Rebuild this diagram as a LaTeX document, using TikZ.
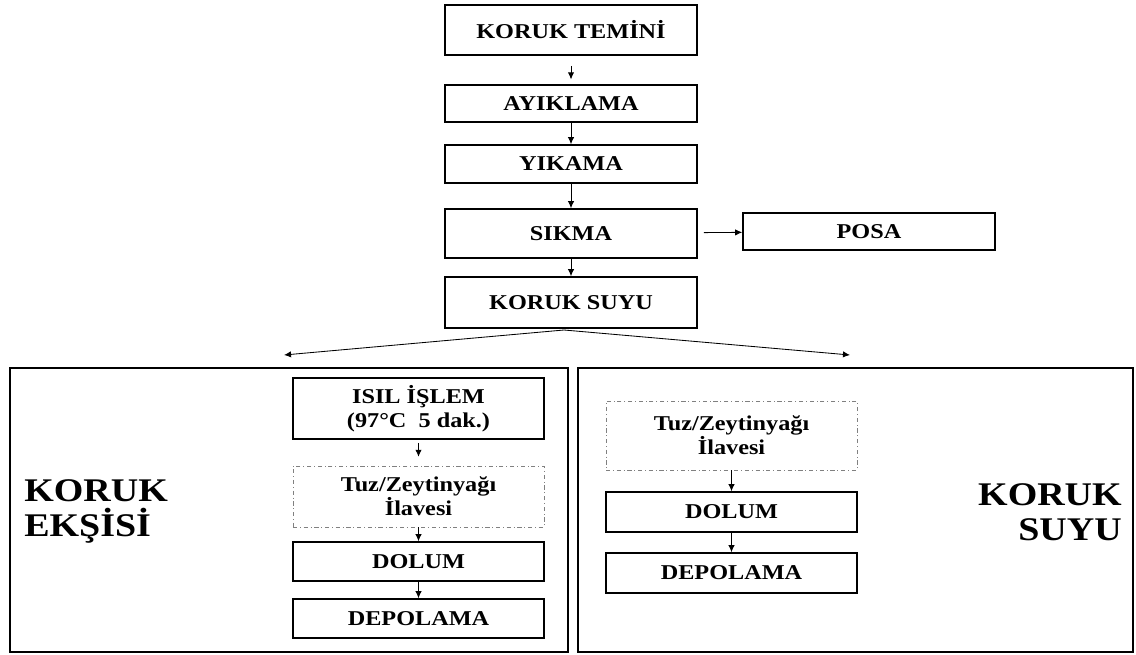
\documentclass[tikz,border=0pt]{standalone}
\usepackage{fontspec}
\setmainfont[FakeStretch=1.15]{Liberation Serif}
\usetikzlibrary{arrows.meta,positioning}

\begin{document}
\begin{tikzpicture}[
  >={Latex[length=5pt,width=4.5pt]},
  box/.style={draw, line width=1.1pt, align=center, minimum width=6.3cm, inner sep=0pt, font=\fontsize{15}{17}\selectfont\bfseries},
  add/.style={box, draw=gray, line width=0.6pt, dash dot, minimum height=1.525cm},
  group/.style={draw, line width=1.1pt, minimum height=7.1cm},
  title/.style={inner sep=0pt, font=\fontsize{23.5}{25}\selectfont\bfseries},
  arrow/.style={->, line width=0.6pt}
]
\useasboundingbox (0,0) rectangle (28.4,-16.375);

% main line
\node[box, minimum height=1.25cm] (temin) at (14.275,-0.75) {KORUK TEMİNİ};
\node[box, minimum height=0.925cm] (ayik) at (14.275,-2.5875) {AYIKLAMA};
\node[box, minimum height=0.95cm] (yika) at (14.275,-4.1) {YIKAMA};
\node[box, minimum height=1.225cm] (sikma) at (14.275,-5.8375) {SIKMA};
\node[box, minimum height=0.925cm] (posa) at (21.725,-5.7875) {POSA};
\node[box, minimum height=1.275cm] (suyu) at (14.275,-7.5625) {KORUK SUYU};

\draw[arrow, shorten <=0.25cm, shorten >=0.12cm] (temin) -- (ayik);
\draw[arrow] (ayik) -- (yika);
\draw[arrow] (yika) -- (sikma);
\draw[arrow] (sikma) -- (suyu);
\draw[arrow, shorten <=0.15cm] (sikma) -- (posa);

% two products
\node[group, minimum width=13.95cm] (eksi) at (7.225,-12.75) {};
\node[group, minimum width=13.875cm] (meyve) at (21.3875,-12.75) {};
\coordinate (split) at (14.1,-8.25);
\coordinate (lefttip) at (7.1,-8.875);
\coordinate (righttip) at (21.25,-8.875);
\draw[arrow] (split) -- (lefttip);
\draw[arrow] (split) -- (righttip);

\node[title, anchor=west, align=left] (eksititle) at (0.6,-12.78) {KORUK\\EKŞİSİ};
\node[title, anchor=east, align=right] (suyutitle) at (28.05,-12.8) {KORUK\\SUYU};

% left branch
\node[box, minimum width=6.275cm, minimum height=1.525cm] (isil) at (10.4625,-10.2125) {ISIL İŞLEM\\(97°C\ \ 5 dak.)};
\node[add, minimum width=6.275cm] (tuzl) at (10.4625,-12.4125) {Tuz/Zeytinyağı\\İlavesi};
\node[box, minimum width=6.275cm, minimum height=0.975cm] (doluml) at (10.4625,-14.0375) {DOLUM};
\node[box, minimum width=6.275cm, minimum height=0.975cm] (depol) at (10.4625,-15.4625) {DEPOLAMA};

\draw[arrow, shorten <=0.08cm, shorten >=0.22cm] (isil) -- (tuzl);
\draw[arrow] (tuzl) -- (doluml);
\draw[arrow] (doluml) -- (depol);

% right branch
\node[add, minimum width=6.275cm, minimum height=1.725cm] (tuzr) at (18.2875,-10.8875) {Tuz/Zeytinyağı\\İlavesi};
\node[box, minimum width=6.275cm, minimum height=1cm] (dolumr) at (18.2875,-12.8) {DOLUM};
\node[box, minimum width=6.275cm, minimum height=1cm] (depor) at (18.2875,-14.325) {DEPOLAMA};

\draw[arrow] (tuzr) -- (dolumr);
\draw[arrow] (dolumr) -- (depor);

\end{tikzpicture}
\end{document}
